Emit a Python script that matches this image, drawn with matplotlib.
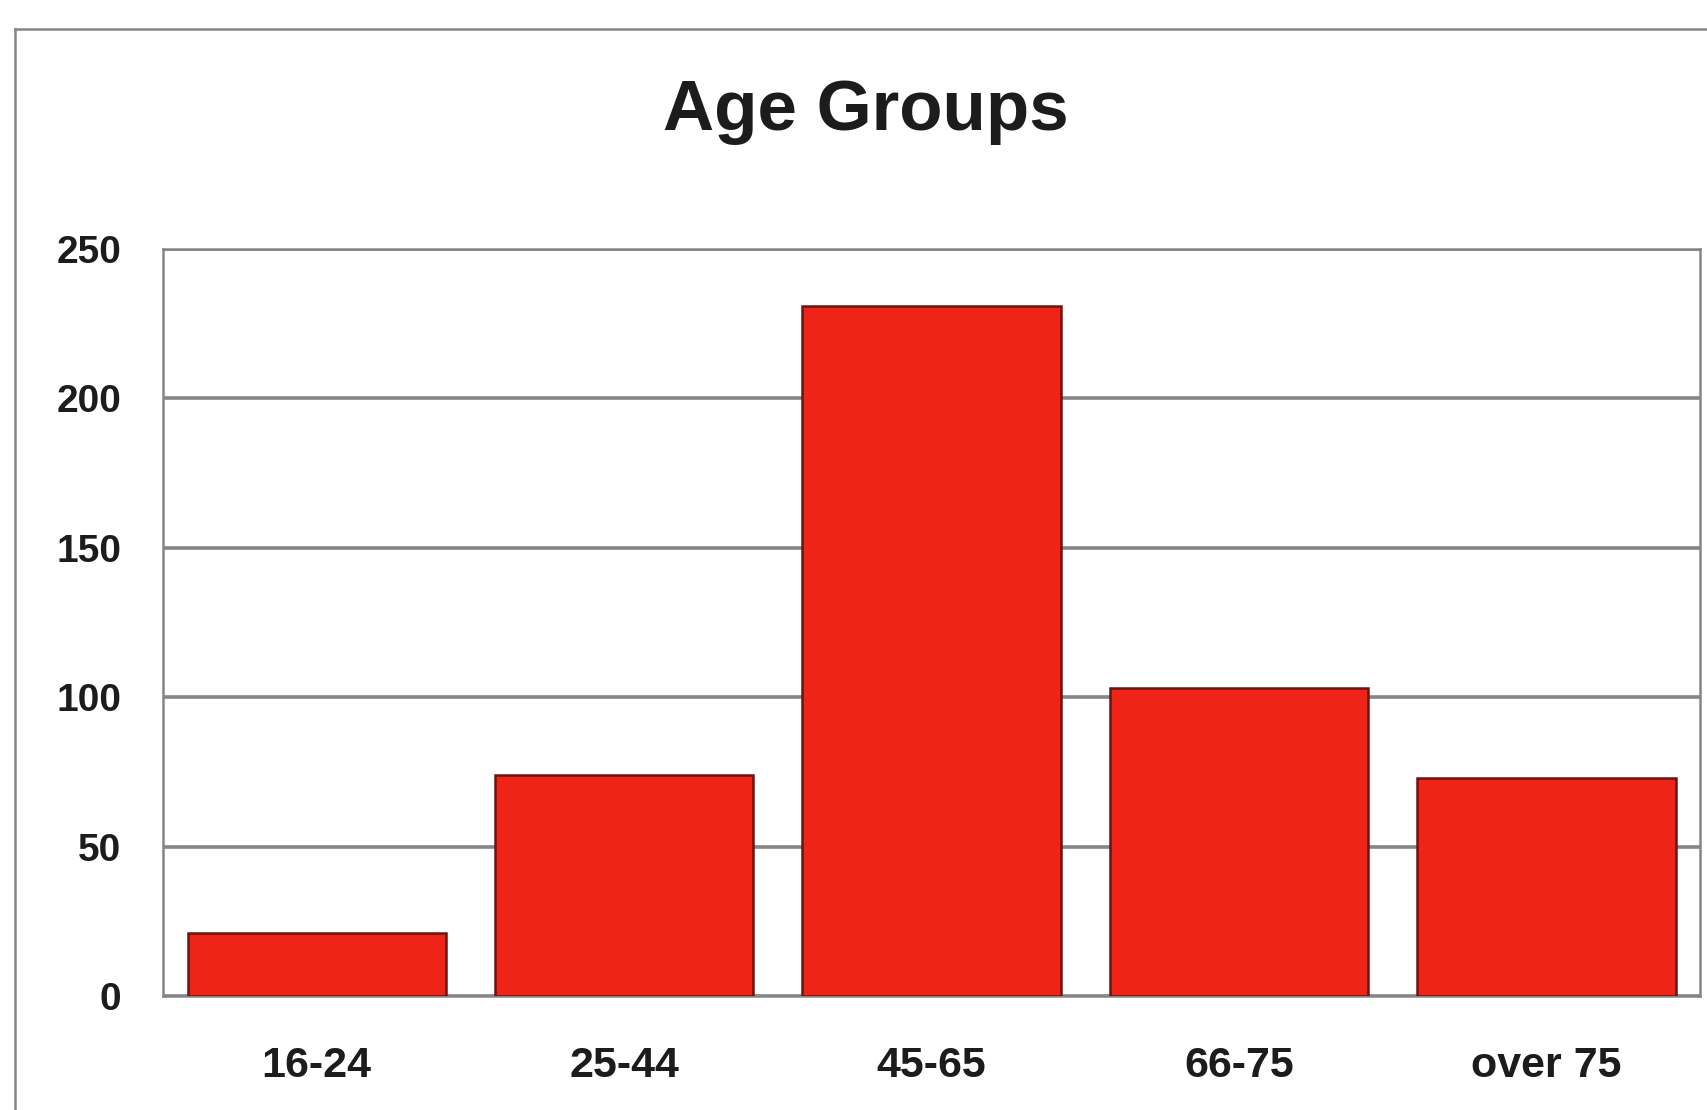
import matplotlib
matplotlib.use("Agg")
import matplotlib.pyplot as plt
from matplotlib.lines import Line2D

# data
groups = ["16-24", "25-44", "45-65", "66-75", "over 75"]
counts = [21, 74, 231, 103, 73]
yticks = [0, 50, 100, 150, 200, 250]

RED = "#EE2418"
EDGE = "#6a1510"
GRID = "#858585"
INK = "#1c1c1c"

plt.rcParams["font.family"] = ["Liberation Sans", "DejaVu Sans"]

fig = plt.figure(figsize=(17.07, 11.10), dpi=100, facecolor="white")
ax = fig.add_axes([0.0955, 0.1027, 0.9005, 0.673])

x = list(range(len(groups)))
ax.bar(x, counts, width=0.84, color=RED, edgecolor=EDGE, linewidth=1.8, zorder=3)

ax.set_xlim(-0.5, len(groups) - 0.5)
ax.set_ylim(0, 250)
ax.set_yticks(yticks)
ax.set_yticklabels([str(t) for t in yticks], fontsize=28, fontweight="bold", color=INK)
ax.set_xticks(x)
ax.set_xticklabels(groups, fontsize=31, fontweight="bold", color=INK)
ax.tick_params(axis="y", length=0, pad=30)
ax.tick_params(axis="x", length=0, pad=36)

ax.yaxis.grid(True, color=GRID, linewidth=2.6, zorder=0)
ax.set_axisbelow(True)
for s in ax.spines.values():
    s.set_color(GRID)
    s.set_linewidth(1.8)

# outer chart frame (runs off the right and bottom of the picture)
fig.add_artist(Line2D([0.0088, 0.0088], [0.0, 0.974], color=GRID, lw=1.8,
                      transform=fig.transFigure))
fig.add_artist(Line2D([0.0088, 1.0], [0.974, 0.974], color=GRID, lw=1.8,
                      transform=fig.transFigure))

fig.text(0.507, 0.899, "Age Groups", fontsize=51, fontweight="bold",
         color=INK, ha="center", va="center")

fig.savefig("out.png", dpi=100, facecolor="white")
